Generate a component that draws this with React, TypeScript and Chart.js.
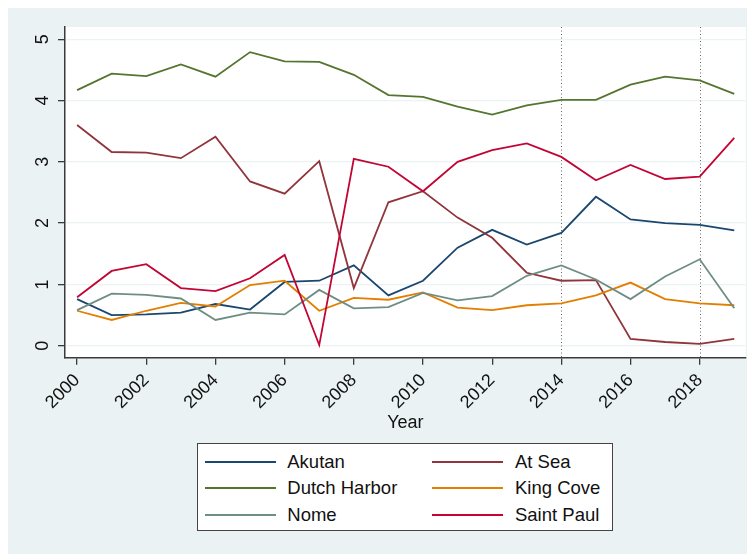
import React, { useEffect, useRef } from "react";
import { Chart, registerables } from "chart.js";

Chart.register(...registerables);

const years = [2000, 2001, 2002, 2003, 2004, 2005, 2006, 2007, 2008, 2009, 2010, 2011, 2012, 2013, 2014, 2015, 2016, 2017, 2018, 2019];
const akutan = [0.76, 0.5, 0.51, 0.54, 0.68, 0.59, 1.04, 1.06, 1.31, 0.82, 1.06, 1.6, 1.89, 1.65, 1.84, 2.43, 2.06, 2.0, 1.97, 1.88];
const atSea = [3.6, 3.16, 3.15, 3.06, 3.41, 2.68, 2.48, 3.01, 0.94, 2.34, 2.52, 2.09, 1.76, 1.19, 1.06, 1.07, 0.11, 0.06, 0.03, 0.11];
const dutchHarbor = [4.17, 4.44, 4.4, 4.59, 4.39, 4.79, 4.64, 4.63, 4.42, 4.09, 4.06, 3.9, 3.77, 3.92, 4.01, 4.01, 4.26, 4.39, 4.33, 4.11];
const kingCove = [0.57, 0.42, 0.57, 0.7, 0.64, 0.99, 1.06, 0.57, 0.78, 0.75, 0.87, 0.62, 0.58, 0.66, 0.69, 0.82, 1.03, 0.76, 0.69, 0.66];
const nome = [0.58, 0.85, 0.83, 0.77, 0.42, 0.54, 0.51, 0.91, 0.61, 0.63, 0.86, 0.74, 0.81, 1.14, 1.31, 1.08, 0.76, 1.13, 1.41, 0.61];
const saintPaul = [0.79, 1.22, 1.33, 0.94, 0.89, 1.1, 1.48, 0.01, 3.05, 2.92, 2.52, 3.0, 3.19, 3.3, 3.08, 2.7, 2.95, 2.72, 2.76, 3.39];

const seriesNames = ["Akutan", "At Sea", "Dutch Harbor", "King Cove", "Nome", "Saint Paul"];
const seriesValues = [akutan, atSea, dutchHarbor, kingCove, nome, saintPaul];
const seriesColors = ["#1a476f", "#90353b", "#55752f", "#e37e00", "#6e8e84", "#c10534"];

const xTickValues = [2000, 2002, 2004, 2006, 2008, 2010, 2012, 2014, 2016, 2018];
const yTickValues = [0, 1, 2, 3, 4, 5];
const refLineYears = [2014, 2018];
const xTitle = "Year";

const FONT = "'Liberation Sans', Arial, Helvetica, sans-serif";
const PANEL = "#EAF2F3";
const AXIS = "#3a3a3a";

const stataPlugin = {
  id: "stataLook",
  beforeDraw(chart: any) {
    const { ctx, chartArea: a } = chart;
    ctx.save();
    ctx.fillStyle = "#ffffff";
    ctx.fillRect(a.left, a.top, a.right - a.left, a.bottom - a.top);
    ctx.restore();
  },
  beforeDatasetsDraw(chart: any) {
    const { ctx, chartArea: a, scales } = chart;
    ctx.save();
    ctx.strokeStyle = "#666";
    ctx.lineWidth = 1;
    ctx.setLineDash([1, 2.5]);
    refLineYears.forEach((yr) => {
      const x = Math.round(scales.x.getPixelForValue(yr)) + 0.5;
      ctx.beginPath();
      ctx.moveTo(x, a.top);
      ctx.lineTo(x, a.bottom);
      ctx.stroke();
    });
    ctx.restore();
  },
  afterDraw(chart: any) {
    const { ctx, chartArea: a, scales } = chart;
    ctx.save();
    ctx.fillStyle = "#111";
    ctx.font = `18px ${FONT}`;
    ctx.textAlign = "center";
    ctx.textBaseline = "middle";
    yTickValues.forEach((v) => {
      const y = scales.y.getPixelForValue(v);
      ctx.save();
      ctx.translate(35, y);
      ctx.rotate(-Math.PI / 2);
      ctx.fillText(String(v), 0, 0);
      ctx.restore();
    });
    ctx.fillText(xTitle, (a.left + a.right) / 2, 414.7);
    ctx.restore();
  },
};

function Legend() {
  const rows = [
    [0, 1],
    [2, 3],
    [4, 5],
  ];
  const rowY = [18.4, 45, 71.7];
  const cols = [
    { line: 8.3, text: 90.6 },
    { line: 235.6, text: 318.3 },
  ];
  return (
    <div
      style={{
        position: "absolute",
        left: 188.7,
        top: 435.3,
        width: 416.3,
        height: 87.7,
        background: "#fff",
        border: "1px solid #444",
        boxSizing: "border-box",
        fontFamily: FONT,
        fontSize: 18.5,
        color: "#111",
      }}
    >
      {rows.map((r, ri) =>
        r.map((si, ci) => (
          <React.Fragment key={si}>
            <div
              style={{
                position: "absolute",
                left: cols[ci].line - 1,
                top: rowY[ri] - 1 - 1,
                width: 70.7,
                height: 2,
                background: seriesColors[si],
              }}
            />
            <div
              style={{
                position: "absolute",
                left: cols[ci].text - 1,
                top: rowY[ri] - 12 - 1,
                height: 24,
                lineHeight: "24px",
                whiteSpace: "nowrap",
              }}
            >
              {seriesNames[si]}
            </div>
          </React.Fragment>
        ))
      )}
    </div>
  );
}

export default function App() {
  const canvasRef = useRef<HTMLCanvasElement | null>(null);

  useEffect(() => {
    if (!canvasRef.current) return;
    const datasets = seriesNames.map((name, i) => ({
      label: name,
      data: years.map((yr, j) => ({ x: yr, y: seriesValues[i][j] })),
      borderColor: seriesColors[i],
      backgroundColor: seriesColors[i],
      borderWidth: 1.8,
      pointRadius: 0,
      tension: 0,
      fill: false,
      order: seriesNames.length - i,
    }));
    const chart = new Chart(canvasRef.current, {
      type: "line",
      data: { datasets },
      plugins: [stataPlugin],
      options: {
        animation: false,
        responsive: false,
        maintainAspectRatio: false,
        layout: { padding: { top: 19, right: 5.3, left: 0, bottom: 0 } },
        plugins: { legend: { display: false }, tooltip: { enabled: false }, title: { display: false } },
        scales: {
          x: {
            type: "linear",
            min: 1999.65,
            max: 2019.33,
            afterBuildTicks: (s: any) => {
              s.ticks = xTickValues.map((v) => ({ value: v }));
            },
            afterFit: (s: any) => {
              s.height = 196.3;
            },
            grid: {
              drawOnChartArea: false,
              drawTicks: true,
              tickLength: 7,
              tickColor: AXIS,
              lineWidth: 1.3,
            },
            border: { display: true, color: AXIS, width: 1.5 },
            ticks: {
              minRotation: 45,
              maxRotation: 45,
              autoSkip: false,
              padding: 5,
              color: "#111",
              font: { family: FONT, size: 18 },
              callback: (v: any) => String(v),
            },
          },
          y: {
            type: "linear",
            min: -0.196,
            max: 5.2,
            afterBuildTicks: (s: any) => {
              s.ticks = yTickValues.map((v) => ({ value: v }));
            },
            afterFit: (s: any) => {
              s.width = 57;
            },
            grid: {
              color: PANEL,
              lineWidth: 1.3,
              drawTicks: true,
              tickLength: 7,
              tickColor: AXIS,
            },
            border: { display: true, color: AXIS, width: 1.5 },
            ticks: { display: false },
          },
        },
      },
    });
    return () => chart.destroy();
  }, []);

  return (
    <div style={{ position: "relative", width: 743, height: 546, background: PANEL }}>
      <canvas ref={canvasRef} width={743} height={546} style={{ position: "absolute", left: 0, top: 0, width: 743, height: 546 }} />
      <Legend />
    </div>
  );
}
